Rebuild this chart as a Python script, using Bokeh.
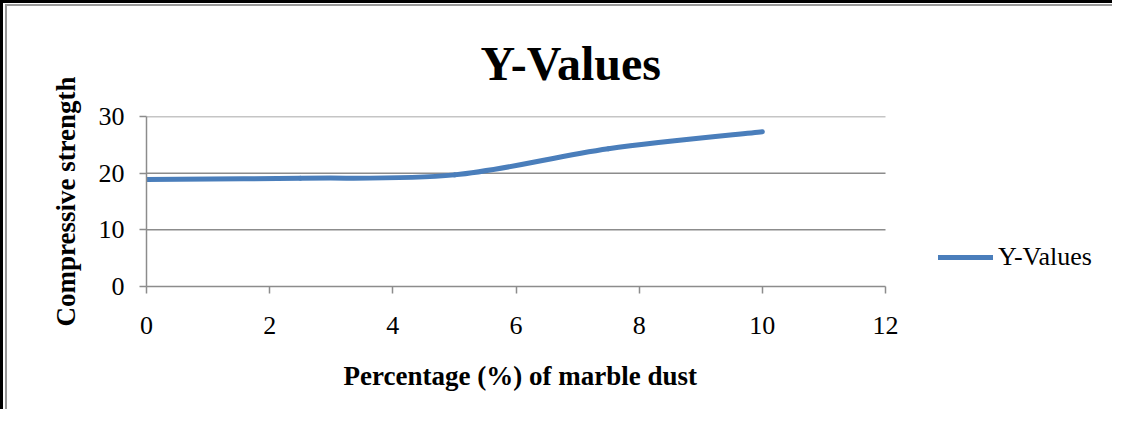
from bokeh.plotting import figure
from bokeh.models import Range1d, FixedTicker, Legend, LegendItem, Title
from bokeh.embed import file_html
from bokeh.resources import INLINE

# data
pct_marble = [0, 2.5, 5, 7.5, 10]
strength = [18.9, 19.1, 19.7, 24.3, 27.3]
x_ticks = [0, 2, 4, 6, 8, 10, 12]
y_ticks = [0, 10, 20, 30]
series_name = "Y-Values"
title_text = "Y-Values"
x_label = "Percentage (%) of marble dust"
y_label = "Compressive strength"

LINE_COLOR = "#4a7ebb"
GRID = "#8c8c8c"
FONT = "Liberation Serif"

W, H = 1112, 409
LEFT, RIGHT, TOP, BOTTOM = 143, 10, 113, 125
AXIS_PX = 739  # pixel length of the 0..12 axis
frame_w = W - LEFT - RIGHT
x_min, x_max = x_ticks[0], x_ticks[-1]
x_end = x_min + (x_max - x_min) * frame_w / AXIS_PX  # frame extends right for the legend

p = figure(width=W, height=H, x_range=Range1d(x_min, x_end), y_range=Range1d(y_ticks[0], y_ticks[-1]),
           output_backend="svg", toolbar_location=None,
           min_border_left=LEFT, min_border_right=RIGHT, min_border_top=TOP, min_border_bottom=BOTTOM)
p.styles = {"border-left": "3px solid black", "border-top": "3px solid black",
            "box-shadow": "inset 2px 1px 0 0 #fff, inset 4px 3px 0 0 #999"}
p.border_fill_color = None
p.background_fill_color = "white"
p.outline_line_color = None

# horizontal gridlines limited to the axis extent
p.xgrid.visible = False
p.ygrid.visible = False
gy = y_ticks[1:]
p.segment(x0=[x_min] * len(gy), x1=[x_max] * len(gy), y0=gy, y1=gy,
          line_color=GRID, line_width=1.5)

# Smooth (Excel-style) curve: cubic Bezier segments with Catmull-Rom control points
n = len(pct_marble)
def pt(i):
    i = max(0, min(n - 1, i))
    return pct_marble[i], strength[i]
x0, y0, x1, y1, cx0, cy0, cx1, cy1 = [], [], [], [], [], [], [], []
for i in range(n - 1):
    pa, pb, pc, pd = pt(i - 1), pt(i), pt(i + 1), pt(i + 2)
    x0.append(pb[0]); y0.append(pb[1]); x1.append(pc[0]); y1.append(pc[1])
    cx0.append(pb[0] + (pc[0] - pa[0]) / 6); cy0.append(pb[1] + (pc[1] - pa[1]) / 6)
    cx1.append(pc[0] - (pd[0] - pb[0]) / 6); cy1.append(pc[1] - (pd[1] - pb[1]) / 6)

r = p.bezier(x0=x0, y0=y0, x1=x1, y1=y1, cx0=cx0, cy0=cy0, cx1=cx1, cy1=cy1,
             line_color=LINE_COLOR, line_width=5, line_cap="round")

p.xaxis.ticker = FixedTicker(ticks=x_ticks)
p.yaxis.ticker = FixedTicker(ticks=y_ticks)
p.xaxis.bounds = (x_min, x_max)
for ax in (p.xaxis, p.yaxis):
    ax.axis_line_color = GRID
    ax.axis_line_width = 1.5
    ax.major_tick_line_color = GRID
    ax.major_tick_line_width = 1.5
    ax.major_tick_out = 7
    ax.major_tick_in = 0
    ax.minor_tick_line_color = None
    ax.major_label_text_font = FONT
    ax.major_label_text_font_size = "26px"
    ax.major_label_text_color = "black"
    ax.axis_label_text_font = FONT
    ax.axis_label_text_font_size = "27px"
    ax.axis_label_text_font_style = "bold"
    ax.axis_label_text_color = "black"
p.yaxis.axis_label = y_label
p.xaxis.major_label_standoff = 23
p.yaxis.major_label_standoff = 15
p.yaxis.axis_label_standoff = 15

# x-axis title centred under the 0..12 axis (frame is wider because of the legend)
xt = Title(text=x_label, align="left", offset=197, standoff=44,
           text_font=FONT, text_font_size="27px", text_font_style="bold", text_color="black")
p.add_layout(xt, "below")

p.title.text = title_text
p.title.align = "left"
p.title.offset = 334
p.title.standoff = 53
p.title.text_font = FONT
p.title.text_font_size = "48px"
p.title.text_font_style = "bold"
p.title.text_color = "black"

legend = Legend(items=[LegendItem(label=series_name, renderers=[r])], location=(792, 14),
                glyph_width=55, glyph_height=30, label_height=30, label_standoff=5,
                padding=0, margin=0, border_line_color=None, background_fill_alpha=0,
                label_text_font=FONT, label_text_font_size="26px", label_text_color="black")
p.add_layout(legend, "center")

open("out.html", "w").write(file_html(p, INLINE))
